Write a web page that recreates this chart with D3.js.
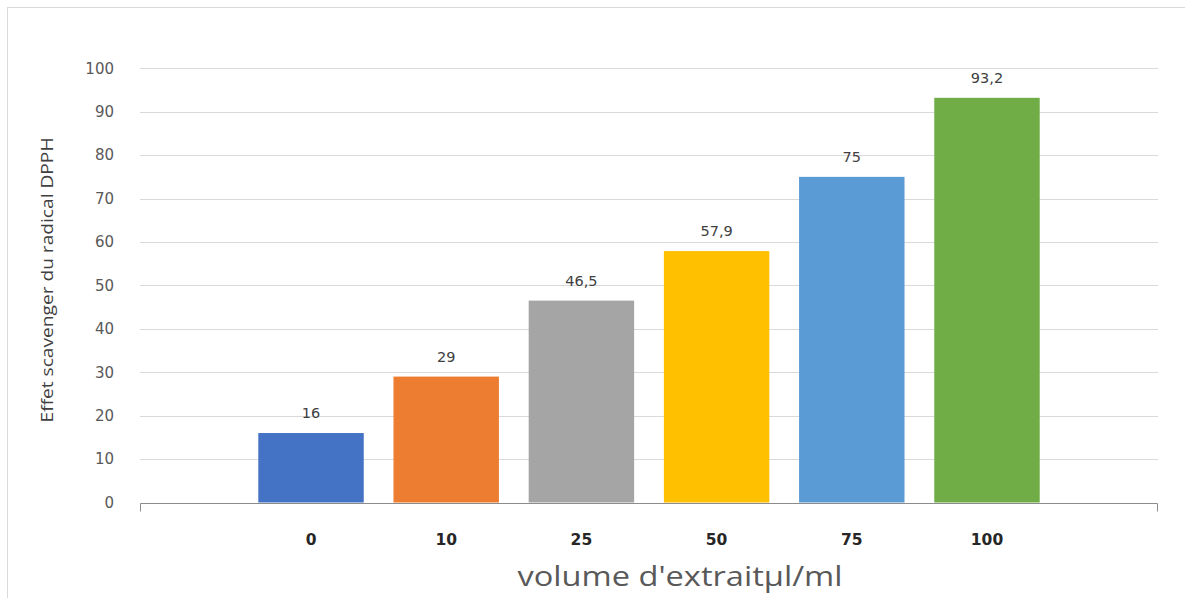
<!DOCTYPE html>
<html>
<head>
<meta charset="utf-8">
<script src="https://cdn.jsdelivr.net/npm/d3@7"></script>
<style>
  html, body { margin: 0; padding: 0; background: #fff; }
  svg { display: block; }
</style>
</head>
<body>
<svg id="chart" width="1185" height="598"></svg>
<script>
// Extract volume (µl/ml) and DPPH scavenging effect
const categories = ["0", "10", "25", "50", "75", "100"];
const values = [16, 29, 46.5, 57.9, 75, 93.2];
const valueLabels = ["16", "29", "46,5", "57,9", "75", "93,2"];
const barColors = ["#4472C4", "#ED7D31", "#A5A5A5", "#FFC000", "#5B9BD5", "#70AD47"];
const yTicks = [0, 10, 20, 30, 40, 50, 60, 70, 80, 90, 100];

const svg = d3.select("#chart");
const W = 1185, H = 598;
const plot = { left: 140, right: 1158, top: 68.3, bottom: 502.5 };

// chart frame
svg.append("rect")
  .attr("x", 7.5).attr("y", 7.5)
  .attr("width", W + 10).attr("height", H + 10)
  .attr("fill", "#fff")
  .attr("stroke", "#d9d9d9").attr("stroke-width", 1);

const x = d3.scaleBand()
  .domain(categories)
  .range([plot.left, plot.right])
  .paddingInner(0.22)
  .paddingOuter(0.875);

const y = d3.scaleLinear()
  .domain([0, 100])
  .range([plot.bottom, plot.top]);

// horizontal gridlines
svg.append("g")
  .selectAll("line")
  .data(yTicks.filter(d => d > 0))
  .join("line")
  .attr("x1", plot.left).attr("x2", plot.right)
  .attr("y1", d => Math.round(y(d)) + 0.5)
  .attr("y2", d => Math.round(y(d)) + 0.5)
  .attr("stroke", "#d9d9d9").attr("stroke-width", 1);

// y tick labels
const yAxis = d3.axisLeft(y).tickValues(yTicks).tickSize(0).tickPadding(0);
const yg = svg.append("g")
  .attr("transform", `translate(${plot.left - 26},0)`)
  .call(yAxis);
yg.select(".domain").remove();
yg.selectAll("text")
  .attr("font-family", "DejaVu Sans, sans-serif")
  .attr("font-size", 15)
  .attr("fill", "#595959");

// bars
svg.append("g")
  .selectAll("rect")
  .data(values)
  .join("rect")
  .attr("x", (d, i) => x(categories[i]))
  .attr("width", x.bandwidth())
  .attr("y", d => y(d))
  .attr("height", d => y(0) - y(d))
  .attr("fill", (d, i) => barColors[i]);

// value labels
svg.append("g")
  .selectAll("text")
  .data(values)
  .join("text")
  .attr("x", (d, i) => x(categories[i]) + x.bandwidth() / 2)
  .attr("y", d => y(d) - 15)
  .attr("text-anchor", "middle")
  .attr("font-family", "DejaVu Sans, sans-serif")
  .attr("font-size", 14.5)
  .attr("fill", "#404040")
  .text((d, i) => valueLabels[i]);

// x axis baseline with end ticks
const xAxis = d3.axisBottom(x).tickSize(0).tickPadding(0);
const xg = svg.append("g")
  .attr("transform", `translate(0,${Math.round(plot.bottom) + 0.5})`)
  .call(xAxis);
xg.select(".domain").remove();
xg.append("path")
  .attr("d", `M${plot.left + 0.5},8V0H${plot.right - 0.5}V8`)
  .attr("fill", "none")
  .attr("stroke", "#8c8c8c").attr("stroke-width", 1);
xg.selectAll(".tick text")
  .attr("y", 41)
  .attr("dy", 0)
  .attr("font-family", "DejaVu Sans, sans-serif")
  .attr("font-weight", "bold")
  .attr("font-size", 15.5)
  .attr("fill", "#262626");

// axis titles
svg.append("text")
  .attr("x", 680)
  .attr("y", 586)
  .attr("text-anchor", "middle")
  .attr("font-family", "Open Sans, sans-serif")
  .attr("font-size", 27)
  .attr("textLength", 325)
  .attr("lengthAdjust", "spacingAndGlyphs")
  .attr("fill", "#595959")
  .text("volume d'extraitµl/ml");

svg.append("text")
  .attr("transform", "translate(53,280) rotate(-90)")
  .attr("text-anchor", "middle")
  .attr("font-family", "Open Sans, sans-serif")
  .attr("font-size", 17)
  .attr("textLength", 285)
  .attr("lengthAdjust", "spacingAndGlyphs")
  .attr("fill", "#404040")
  .text("Effet scavenger du radical DPPH");
</script>
</body>
</html>
